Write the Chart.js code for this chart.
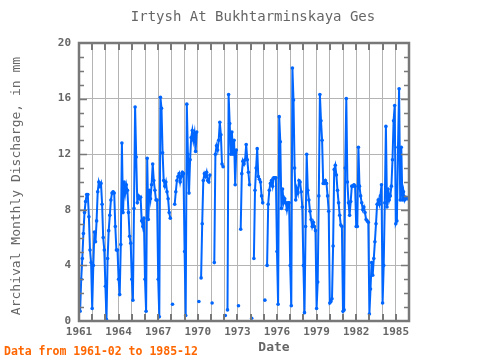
<!DOCTYPE html>
<html>
<head>
<meta charset="utf-8">
<script src="https://cdn.jsdelivr.net/npm/chart.js@4/dist/chart.umd.min.js"></script>
<style>
    html, body { margin: 0; padding: 0; background: #fff; }
    #chart { display: block; }
</style>
</head>
<body>
<canvas id="chart" width="480" height="360"></canvas>
<script>
// monthly discharge (mm), one row per year, Jan..Dec; series starts 1961-02
const firstYear = 1961;
const firstMonth = 2;
const years = [1961, 1962, 1963, 1964, 1965, 1966, 1967, 1968, 1969, 1970, 1971, 1972, 1973,
               1974, 1975, 1976, 1977, 1978, 1979, 1980, 1981, 1982, 1983, 1984, 1985];
const monthly = [
    [null, 0.7, 3.0, 4.5, 6.3, 7.8, 8.6, 9.1, 9.1, 7.5, 5.1, 4.2],      // 1961
    [0.9, 4.0, 6.4, 5.7, 7.2, 9.3, 10.0, 9.7, 9.9, 8.4, 6.0, 5.1],      // 1962
    [2.5, 0.1, 4.5, 6.5, 7.6, 8.7, 9.2, 9.3, 9.2, 6.8, 5.1, 5.1],       // 1963
    [3.0, 1.9, 5.5, 12.8, 7.8, 10.0, 9.2, 9.8, 9.4, 7.8, 6.1, 5.6],     // 1964
    [3.0, 1.5, 8.1, 15.4, 11.8, 8.5, 9.0, 8.8, 8.9, 7.2, 6.8, 7.4],     // 1965
    [3.0, 0.7, 11.7, 7.3, 9.4, 8.8, 9.8, 11.3, 10.1, 9.4, 8.7, 8.7],    // 1966
    [3.0, 0.3, 16.1, 15.3, 12.1, 10.1, 9.7, 10.0, 9.3, 8.8, 7.8, 7.4],  // 1967
    [null, 1.2, null, 8.4, 9.3, 10.1, 10.4, 10.6, 10.0, 10.4, 10.7, 10.6], // 1968
    [5.0, 0.4, 15.6, 12.0, 9.2, 11.6, 13.2, 13.7, 13.0, 13.5, 12.2, 13.6], // 1969
    [null, 1.4, null, 3.1, 7.0, 10.1, 10.6, 10.4, 10.7, 10.1, 10.0, 10.5], // 1970
    [null, 1.3, null, 4.2, 12.0, 12.6, 12.3, 13.0, 14.3, 13.4, 11.3, 11.1], // 1971
    [null, 0.4, null, 0.8, 16.3, 14.2, 12.0, 13.6, 12.0, 13.0, 9.8, 12.3],  // 1972
    [null, 1.1, null, 6.6, 10.6, 11.5, 11.3, 11.6, 12.7, 11.6, 10.7, 9.8],  // 1973
    [null, 0.2, null, 4.5, 9.4, 11.0, 12.4, 10.4, 10.2, 10.0, 9.0, 8.5],    // 1974
    [null, 1.5, null, 4.0, 8.4, 9.4, 9.9, 10.1, 9.7, 10.3, 10.3, 10.3],     // 1975
    [5.0, 1.2, 14.7, 12.9, 8.1, 9.5, 8.5, 8.8, 8.5, 8.0, 8.5, 8.5],     // 1976
    [4.0, 1.1, 18.2, 15.9, 11.0, 8.7, 9.5, 9.2, 10.1, 10.0, 9.3, 8.2],  // 1977
    [4.0, 0.6, 6.8, 12.0, 9.4, 8.7, 7.9, 7.3, 6.8, 7.1, 6.8, 6.5],      // 1978
    [0.9, 2.8, 9.0, 16.3, 14.4, 13.0, 9.9, 9.9, 10.1, 9.9, 9.0, 7.9],   // 1979
    [1.3, 1.4, 1.6, 5.4, 10.9, 11.2, 10.5, 9.4, 8.5, 7.6, 6.9, 6.8],    // 1980
    [0.7, 0.8, 11.0, 16.0, 10.0, 8.5, 7.6, 8.6, 9.7, 9.7, 9.8, 9.7],    // 1981
    [6.8, 6.8, 12.5, 9.7, 9.0, 8.5, 8.0, 8.2, 7.8, 7.3, 7.2, 7.1],      // 1982
    [0.5, 2.3, 4.2, 3.3, 4.5, 5.7, 7.0, 8.4, 8.7, 8.4, 9.0, 9.8],       // 1983
    [1.3, 4.0, 8.5, 14.0, 8.2, 9.5, 8.7, 9.0, 9.7, 11.6, 14.4, 15.5],   // 1984
    [7.0, 7.2, 12.5, 16.7, 8.7, 12.5, 8.7, 9.3, 8.7, 8.9, 8.8, 8.8]     // 1985
];
const xLabelYears = [1961, 1964, 1967, 1970, 1973, 1976, 1979, 1982, 1985];
const yTicks = [0, 4, 8, 12, 16, 20];

const points = [];
years.forEach((yr, i) => {
    monthly[i].forEach((v, m) => {
        if (yr === firstYear && m < firstMonth - 1) return;
        points.push({ x: yr + m / 12, y: v });
    });
});

const MONO = '"DejaVu Sans Mono", "Liberation Mono", monospace';
const AXIS = '#787878';
const GRID = '#b4b4b4';
const TEXT = '#666666';

// inside tick marks, frame and the free text around the plot
const framePlugin = {
    id: 'frame',
    afterDraw(chart) {
        const ctx = chart.ctx;
        const a = chart.chartArea;
        const xs = chart.scales.x, ys = chart.scales.y;
        ctx.save();
        ctx.strokeStyle = AXIS;
        ctx.lineWidth = 2;
        for (let yr = 1962; yr <= 1985; yr++) {
            const px = Math.round(xs.getPixelForValue(yr));
            ctx.beginPath();
            ctx.moveTo(px, a.bottom); ctx.lineTo(px, a.bottom - 7);
            ctx.moveTo(px, a.top); ctx.lineTo(px, a.top + 7);
            ctx.stroke();
        }
        ctx.lineWidth = 1.5;
        for (let v = 1; v < 20; v++) {
            const py = Math.round(ys.getPixelForValue(v)) + 0.5;
            const len = v % 4 === 0 ? 8 : 5;
            ctx.beginPath();
            ctx.moveTo(a.left, py); ctx.lineTo(a.left + len, py);
            ctx.moveTo(a.right, py); ctx.lineTo(a.right - len, py);
            ctx.stroke();
        }
        ctx.lineWidth = 2.5;
        ctx.strokeRect(a.left, a.top, a.right - a.left, a.bottom - a.top);

        ctx.fillStyle = TEXT;
        ctx.textBaseline = 'middle';
        ctx.textAlign = 'center';
        ctx.font = '14px ' + MONO;
        ctx.fillText('Irtysh At Bukhtarminskaya Ges', 253, 17);
        ctx.font = 'bold 13px ' + MONO;
        ctx.fillText('Date', 274, 348);
        ctx.save();
        ctx.translate(17, 186);
        ctx.rotate(-Math.PI / 2);
        ctx.font = '13px ' + MONO;
        ctx.fillText('Archival Monthly Discharge, in mm', 0, 0);
        ctx.restore();
        ctx.textAlign = 'left';
        ctx.fillStyle = '#ff6600';
        ctx.font = 'bold 11.5px ' + MONO;
        ctx.fillText('Data from 1961-02 to 1985-12', 4, 352);
        ctx.restore();
    }
};

new Chart(document.getElementById('chart'), {
    type: 'line',
    data: {
        datasets: [{
            data: points,
            borderColor: '#0066ff',
            backgroundColor: '#0066ff',
            borderWidth: 2,
            pointRadius: 1.8,
            pointBorderWidth: 0,
            pointHoverRadius: 0,
            tension: 0,
            spanGaps: false
        }]
    },
    options: {
        responsive: false,
        animation: false,
        layout: { padding: { top: 43, right: 71, left: 0, bottom: 0 } },
        plugins: { legend: { display: false }, tooltip: { enabled: false }, title: { display: false } },
        scales: {
            x: {
                type: 'linear',
                min: 1961,
                max: 1986,
                afterFit: (s) => { s.height = 39; },
                afterBuildTicks: (s) => {
                    s.ticks = [];
                    for (let yr = 1961; yr <= 1986; yr++) s.ticks.push({ value: yr });
                },
                ticks: {
                    autoSkip: false,
                    maxRotation: 0,
                    minRotation: 0,
                    padding: 5,
                    color: TEXT,
                    font: { family: MONO, size: 11, weight: 'bold' },
                    callback: (v) => xLabelYears.includes(v) ? String(v) : ''
                },
                grid: { color: GRID, lineWidth: 1, drawTicks: false },
                border: { display: false }
            },
            y: {
                min: 0,
                max: 20,
                afterFit: (s) => { s.width = 79; },
                afterBuildTicks: (s) => { s.ticks = yTicks.map(v => ({ value: v })); },
                ticks: {
                    padding: 8,
                    color: TEXT,
                    font: { family: MONO, size: 11, weight: 'bold' }
                },
                grid: { color: GRID, lineWidth: 1, drawTicks: false },
                border: { display: false }
            }
        }
    },
    plugins: [framePlugin]
});
</script>
</body>
</html>
